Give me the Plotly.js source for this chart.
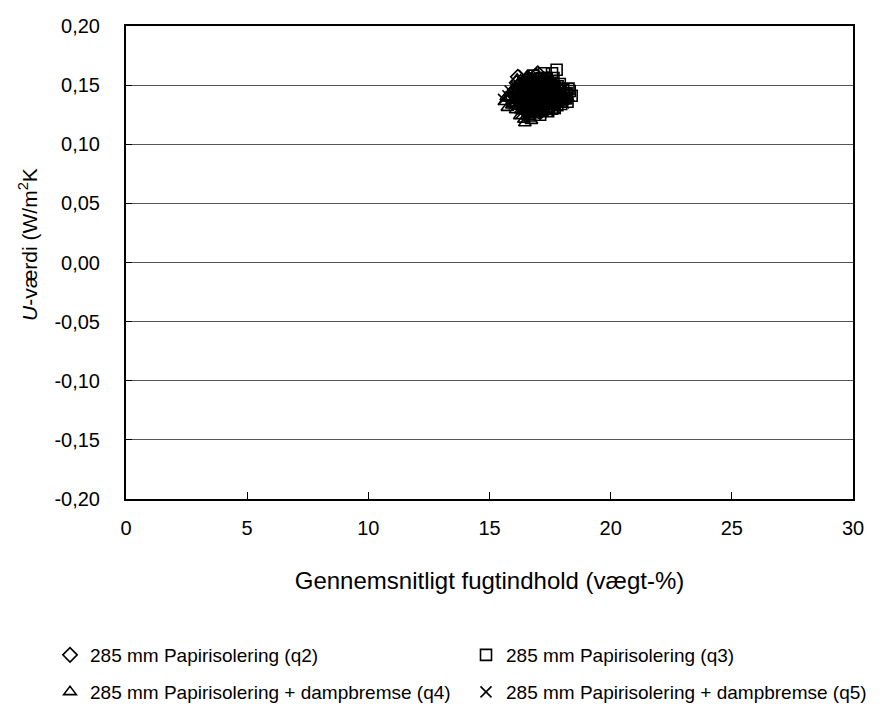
<!DOCTYPE html>
<html>
<head>
<meta charset="utf-8">
<script src="https://cdn.plot.ly/plotly-3.0.1.min.js"></script>
<style>
  html, body { margin: 0; padding: 0; background: #fff; }
  #chart { width: 880px; height: 706px; }
</style>
</head>
<body>
<div id="chart"></div>
<script>
// U-value against mean moisture content, four measurement series
const q2X = [16.12,16.35,16.58,16.71,16.84,16.93,17.05,17.18,17.27,17.41,17.52,17.66,17.79,16.22,16.47,16.63,16.88,17.02,17.14,17.36,17.58,17.71,16.05,16.31,16.52,16.77,16.96,17.21,17.44,17.63,16.41,16.69,16.91,17.09,17.33,17.55,16.28,16.56,16.82,17.11,17.39,17.68,16.17,16.49,16.74,16.99,17.24,17.47,16.61,17.03,
             16.66,16.79,16.95,17.08,17.22,17.35,16.53,16.86,17.16,17.46,16.72,17.00,17.30,16.45,16.92,17.26,16.64,17.06,17.49,16.83,17.19,16.58,16.98,17.37,17.13];
const q2Y = [0.152,0.148,0.156,0.145,0.151,0.158,0.147,0.153,0.149,0.155,0.146,0.150,0.144,0.141,0.139,0.143,0.137,0.142,0.140,0.138,0.141,0.136,0.146,0.135,0.133,0.139,0.134,0.132,0.137,0.135,0.130,0.128,0.131,0.127,0.129,0.133,0.142,0.145,0.149,0.144,0.143,0.147,0.157,0.150,0.154,0.160,0.146,0.152,0.136,0.138,
             0.146,0.140,0.144,0.139,0.143,0.147,0.141,0.135,0.136,0.142,0.137,0.150,0.140,0.144,0.145,0.151,0.153,0.141,0.148,0.132,0.134,0.149,0.129,0.145,0.148];

const q3X = [16.45,16.62,16.80,16.97,17.12,17.25,17.38,17.51,17.64,17.77,17.90,18.04,18.18,18.31,16.55,16.73,16.89,17.06,17.21,17.34,17.49,17.62,17.83,18.02,18.22,18.39,16.68,16.86,17.02,17.17,17.31,17.45,17.59,17.74,17.96,18.12,16.58,16.94,17.28,17.57,17.86,18.09,16.78,17.09,17.42,17.69,17.98,17.15,17.52,17.81,
             17.05,17.19,17.33,17.47,17.61,17.75,17.89,16.99,17.27,17.55,17.92,17.11,17.40,17.70,16.91,17.36,17.80,17.24,17.66,18.17,17.00,17.44,17.88,17.58,18.26];
const q3Y = [0.150,0.154,0.158,0.149,0.155,0.160,0.152,0.148,0.156,0.163,0.151,0.146,0.143,0.145,0.142,0.138,0.145,0.141,0.139,0.143,0.137,0.140,0.142,0.138,0.136,0.141,0.133,0.131,0.135,0.129,0.134,0.132,0.130,0.136,0.134,0.139,0.147,0.144,0.146,0.144,0.147,0.142,0.127,0.125,0.128,0.131,0.137,0.156,0.152,0.149,
             0.146,0.150,0.142,0.147,0.144,0.141,0.139,0.152,0.138,0.150,0.145,0.136,0.153,0.148,0.140,0.156,0.133,0.131,0.135,0.139,0.134,0.149,0.143,0.160,0.147];

const q4X = [15.62,15.81,15.97,16.12,16.26,16.39,16.51,16.66,16.79,16.93,17.06,17.21,17.35,15.74,15.92,16.08,16.21,16.35,16.48,16.61,16.75,16.88,17.02,17.17,15.88,16.03,16.17,16.31,16.44,16.57,16.70,16.84,16.97,17.12,16.25,16.42,16.59,16.73,16.91,15.69,16.14,16.53,16.86,17.28,16.36,16.64,16.99,16.46,16.68,17.43,
             16.29,16.45,16.62,16.78,16.95,17.09,16.19,16.52,16.83,17.13,16.37,16.70,17.04,16.10,16.58,16.90,15.98,16.40,16.77,17.24,16.50,16.86,16.28,16.66,17.00];
const q4Y = [0.136,0.139,0.134,0.141,0.137,0.143,0.139,0.145,0.141,0.147,0.143,0.140,0.138,0.131,0.133,0.129,0.132,0.128,0.130,0.127,0.131,0.129,0.133,0.130,0.144,0.147,0.150,0.146,0.152,0.148,0.153,0.149,0.151,0.146,0.124,0.121,0.123,0.120,0.125,0.140,0.155,0.157,0.156,0.135,0.135,0.136,0.138,0.118,0.122,0.142,
             0.140,0.138,0.142,0.136,0.139,0.141,0.137,0.134,0.144,0.137,0.149,0.131,0.147,0.135,0.127,0.126,0.146,0.143,0.152,0.144,0.140,0.134,0.154,0.150,0.128];

const q5X = [15.58,15.76,15.94,16.15,16.33,16.52,16.70,16.87,17.04,17.19,17.37,17.56,17.74,17.93,18.11,18.28,16.02,16.24,16.46,16.67,16.83,17.01,17.23,17.45,17.67,17.88,18.06,16.11,16.38,16.61,16.92,17.14,17.31,17.53,17.79,18.01,15.85,16.29,16.57,16.81,17.08,17.42,17.71,18.19,16.44,16.77,17.11,17.49,17.84,16.95,
             16.49,16.63,16.78,16.97,17.16,17.34,17.52,17.70,16.56,16.89,17.27,17.61,17.97,16.35,16.73,17.06,17.39,17.81,16.20,16.66,17.00,17.46,16.86,17.20,17.58];
const q5Y = [0.138,0.141,0.137,0.143,0.140,0.146,0.142,0.148,0.144,0.150,0.146,0.142,0.147,0.143,0.139,0.141,0.134,0.131,0.136,0.133,0.138,0.135,0.132,0.137,0.134,0.138,0.135,0.148,0.152,0.150,0.154,0.149,0.153,0.151,0.144,0.146,0.145,0.126,0.129,0.127,0.131,0.128,0.130,0.143,0.158,0.140,0.139,0.141,0.139,0.145,
             0.142,0.139,0.145,0.141,0.143,0.139,0.145,0.141,0.133,0.136,0.134,0.148,0.139,0.137,0.150,0.153,0.140,0.136,0.146,0.130,0.129,0.132,0.155,0.147,0.137];

const seriesNames = [
  '285 mm Papirisolering (q2)',
  '285 mm Papirisolering (q3)',
  '285 mm Papirisolering + dampbremse (q4)',
  '285 mm Papirisolering + dampbremse (q5)'
];

const yTickVals = [-0.20,-0.15,-0.10,-0.05,0,0.05,0.10,0.15,0.20];
const yTickText = ['-0,20','-0,15','-0,10','-0,05','0,00','0,05','0,10','0,15','0,20'];
const xTickVals = [0,5,10,15,20,25,30];

const FONT = 'Liberation Sans, Arial, sans-serif';

function series(x, y, name, symbol, legend) {
  return {
    type: 'scatter', mode: 'markers', x: x, y: y, name: name,
    legend: legend,
    marker: {
      symbol: symbol, size: 11, color: '#000',
      line: { color: '#000', width: 1.6 }
    },
    cliponaxis: false
  };
}

// Key laid out as a 2x2 grid, one single-entry legend per cell
const traces = [
  series(q2X, q2Y, seriesNames[0], 'diamond-open', 'legend'),
  series(q3X, q3Y, seriesNames[1], 'square-open', 'legend2'),
  series(q4X, q4Y, seriesNames[2], 'triangle-up-open', 'legend3'),
  series(q5X, q5Y, seriesNames[3], 'x-thin-open', 'legend4')
];

function keyCell(px, py) {
  return {
    orientation: 'h', xref: 'container', yref: 'container',
    yanchor: 'top', xanchor: 'left', x: px / 880, y: 1 - py / 706,
    font: { family: FONT, size: 19, color: '#000' },
    bgcolor: 'rgba(0,0,0,0)', itemwidth: 30
  };
}

const layout = {
  width: 880, height: 706,
  margin: { l: 126, r: 27, t: 26, b: 207, autoexpand: false },
  paper_bgcolor: '#fff', plot_bgcolor: '#fff',
  separators: ',.',
  font: { family: FONT, size: 20, color: '#000' },
  xaxis: {
    range: [0, 30], tickvals: xTickVals, ticks: 'inside', ticklen: 7,
    tickcolor: '#000', tickwidth: 1, showgrid: false, zeroline: false,
    showline: true, linecolor: '#000', linewidth: 2, mirror: true,
    ticklabelstandoff: 10,
    tickfont: { family: FONT, size: 20, color: '#000' },
    title: { text: 'Gennemsnitligt fugtindhold (vægt-%)', standoff: 34,
             font: { family: FONT, size: 24, color: '#000' } }
  },
  yaxis: {
    range: [-0.2, 0.2], tickvals: yTickVals, ticktext: yTickText,
    ticks: 'inside', ticklen: 6, tickcolor: '#000', tickwidth: 1,
    showgrid: true, gridcolor: '#555', gridwidth: 1, zeroline: false,
    showline: true, linecolor: '#000', linewidth: 2, mirror: true,
    ticklabelstandoff: 20,
    tickfont: { family: FONT, size: 20, color: '#000' }
  },
  annotations: [{
    text: '<i>U</i>-værdi (W/m<sup>2</sup>K',
    xref: 'paper', yref: 'paper',
    x: (28 - 126) / 727, y: (499 - 245) / 473,
    xanchor: 'center', yanchor: 'middle', textangle: -90, showarrow: false,
    font: { family: FONT, size: 21, color: '#000' }
  }],
  legend: keyCell(50, 636),
  legend2: keyCell(466, 636),
  legend3: keyCell(50, 673),
  legend4: keyCell(466, 673),
  showlegend: true
};

Plotly.newPlot('chart', traces, layout, { staticPlot: true, displayModeBar: false });
</script>
</body>
</html>
